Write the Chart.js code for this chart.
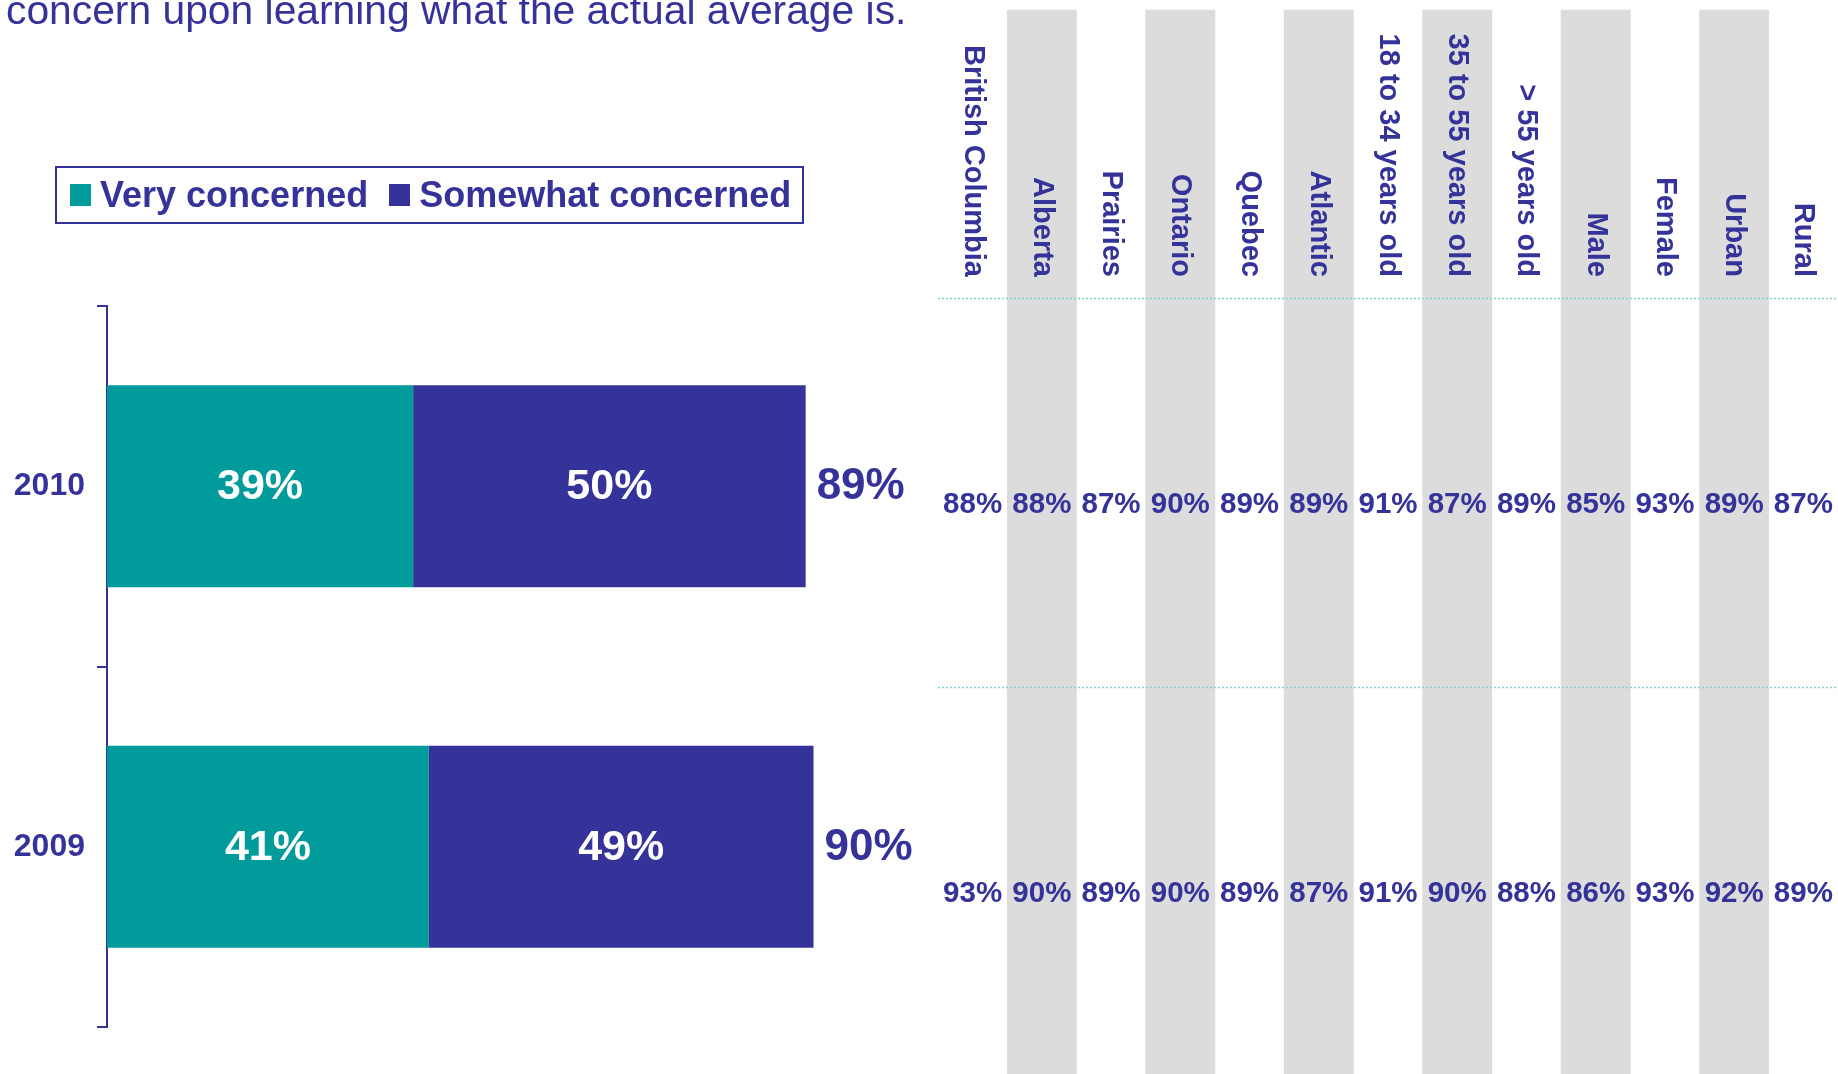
<!DOCTYPE html>
<html>
<head>
<meta charset="utf-8">
<script src="https://cdn.jsdelivr.net/npm/chart.js@4.4.1/dist/chart.umd.min.js"></script>
<style>
  body { margin: 0; background: #fff; font-family: "Liberation Sans", Arial, sans-serif; }
  #page { position: relative; width: 1838px; height: 1074px; overflow: hidden; }
  #title { position: absolute; left: 6px; top: -10px; font-size: 40.8px; line-height: 40px; color: #353399; white-space: nowrap; z-index: 2; }
  #legend { position: absolute; left: 55px; top: 166px; width: 749px; height: 58px; box-sizing: border-box;
            border: 2px solid #353399; display: flex; align-items: center; padding-left: 13px; z-index: 2; overflow: hidden; }
  .item { display: flex; align-items: center; flex-shrink: 0; white-space: nowrap; font-weight: bold; font-size: 36px; color: #353399; margin-right: 21px; }
  .box { width: 21px; height: 22px; margin-right: 9px; flex-shrink: 0; }
  #left { position: absolute; left: 0; top: 0; width: 938px; height: 1074px; }
  #right { position: absolute; left: 938px; top: 0; width: 900px; height: 1074px; }
</style>
</head>
<body>
<div id="page">
  <div id="title">concern upon learning what the actual average is.</div>
  <div id="legend"></div>
  <div id="left"><canvas id="barChart"></canvas></div>
  <div id="right"><canvas id="tableChart"></canvas></div>
</div>
<script>
const years = ["2010", "2009"];
const veryConcerned = [39, 41];
const somewhatConcerned = [50, 49];
const totals = [89, 90];

const segments = ["British Columbia", "Alberta", "Prairies", "Ontario", "Quebec", "Atlantic",
  "18 to 34 years old", "35 to 55 years old", "> 55 years old", "Male", "Female", "Urban", "Rural"];
const row2010 = [88, 88, 87, 90, 89, 89, 91, 87, 89, 85, 93, 89, 87];
const row2009 = [93, 90, 89, 90, 89, 87, 91, 90, 88, 86, 93, 92, 89];

const TEAL = "#009B9A";
const PURPLE = "#353399";
const GRAY = "#DCDCDC";
const FONT = "'Liberation Sans', Arial, sans-serif";

// labels inside the bars plus the total at the end
const barLabels = {
  id: "barLabels",
  afterDatasetsDraw(chart) {
    const ctx = chart.ctx;
    ctx.save();
    ctx.textBaseline = "middle";
    ctx.font = "bold 43px " + FONT;
    chart.data.datasets.forEach((ds, di) => {
      chart.getDatasetMeta(di).data.forEach((bar, i) => {
        const p = bar.getProps(["x", "y", "base"], true);
        ctx.fillStyle = "#fff";
        ctx.textAlign = "center";
        ctx.fillText(ds.data[i] + "%", (p.x + p.base) / 2, p.y + 1);
        if (di == chart.data.datasets.length - 1) {
          ctx.fillStyle = PURPLE;
          ctx.font = "bold 44px " + FONT;
          ctx.textAlign = "left";
          ctx.fillText(totals[i] + "%", p.x + 11, p.y + 1);
          ctx.font = "bold 43px " + FONT;
        }
      });
    });
    ctx.restore();
  },
};

const barChart = new Chart("barChart", {
  type: "bar",
  data: {
    labels: years,
    datasets: [
      { label: "Very concerned", data: veryConcerned, backgroundColor: TEAL },
      { label: "Somewhat concerned", data: somewhatConcerned, backgroundColor: PURPLE },
    ],
  },
  options: {
    indexAxis: "y",
    responsive: true,
    maintainAspectRatio: false,
    animation: false,
    barPercentage: 0.56,
    categoryPercentage: 1,
    layout: { padding: { left: 0, top: 306, bottom: 47, right: 46 } },
    plugins: { legend: { display: false }, tooltip: { enabled: false } },
    scales: {
      x: { stacked: true, display: false, min: 0, max: 100 },
      y: {
        stacked: true,
        grid: { offset: true, drawOnChartArea: false, color: PURPLE, lineWidth: 2, tickLength: 10 },
        border: { color: PURPLE, width: 2 },
        ticks: { color: PURPLE, padding: 12, font: { family: FONT, weight: "bold", size: 32 } },
        afterFit: (s) => { s.width = 107; },
      },
    },
  },
  plugins: [barLabels],
});

// html legend from the datasets
const legendDiv = document.getElementById("legend");
barChart.data.datasets.forEach((ds) => {
  legendDiv.innerHTML += `<div class="item"><div class="box" style="background:${ds.backgroundColor}"></div>${ds.label}</div>`;
});

// right side: stripes as bars, headers / values / dotted rules via the scales
const stripes = segments.map((s, i) => (i % 2 == 1 ? [-0.74, 1.995] : null));

const tableLabels = {
  id: "tableLabels",
  afterDatasetsDraw(chart) {
    const ctx = chart.ctx;
    const x = chart.scales.x, y = chart.scales.y;
    const area = chart.chartArea;
    ctx.save();
    ctx.strokeStyle = "#86CFCF";
    ctx.lineWidth = 1.5;
    ctx.setLineDash([2, 2]);
    [0, 1].forEach((r) => {
      const py = Math.round(y.getPixelForValue(r)) + 0.5;
      ctx.beginPath();
      ctx.moveTo(area.left, py);
      ctx.lineTo(area.right, py);
      ctx.stroke();
    });
    ctx.setLineDash([]);
    ctx.fillStyle = PURPLE;
    ctx.font = "bold 29px " + FONT;
    segments.forEach((s, i) => {
      ctx.save();
      ctx.translate(x.getPixelForValue(i), y.getPixelForValue(0) - 21);
      ctx.rotate(Math.PI / 2);
      ctx.textAlign = "right";
      ctx.textBaseline = "middle";
      ctx.fillText(s, 0, 0);
      ctx.restore();
    });
    ctx.font = "bold 29.5px " + FONT;
    ctx.textAlign = "center";
    ctx.textBaseline = "middle";
    [row2010, row2009].forEach((row, r) => {
      row.forEach((v, i) => {
        ctx.fillText(v + "%", x.getPixelForValue(i), y.getPixelForValue(r + 0.5) + 12.5);
      });
    });
    ctx.restore();
  },
};

new Chart("tableChart", {
  type: "bar",
  data: {
    labels: segments,
    datasets: [{ data: stripes, backgroundColor: GRAY, borderWidth: 0, barPercentage: 1, categoryPercentage: 1 }],
  },
  options: {
    responsive: true,
    maintainAspectRatio: false,
    animation: false,
    layout: { padding: 0 },
    plugins: { legend: { display: false }, tooltip: { enabled: false } },
    scales: {
      x: { display: false, offset: true },
      y: { display: false, reverse: true, min: -0.766, max: 1.995 },
    },
  },
  plugins: [tableLabels],
});
</script>
</body>
</html>
